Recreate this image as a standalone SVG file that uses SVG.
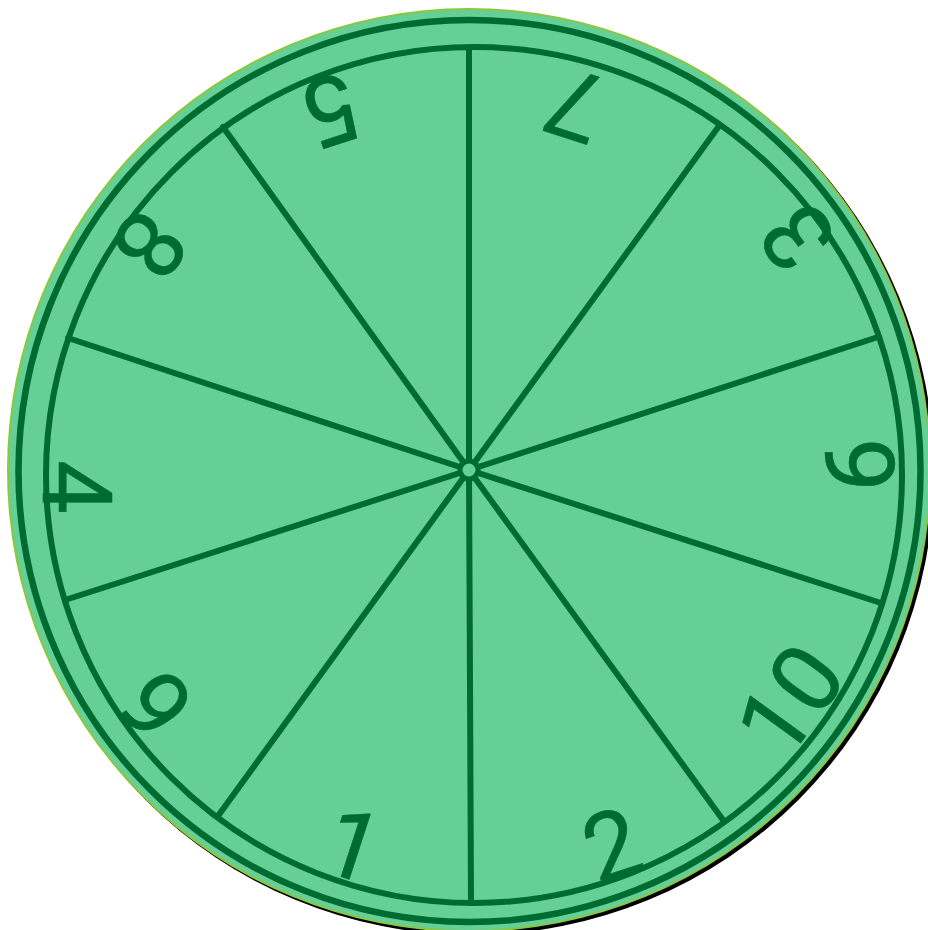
<svg xmlns="http://www.w3.org/2000/svg" width="928" height="930" viewBox="0 0 928 930">
  <style>
    .ln { stroke: #006B30; fill: none; }
    .spoke { stroke: #006B30; stroke-width: 6; stroke-linecap: round; }
    .num { font-family: "Roboto", "Liberation Sans", sans-serif; font-weight: 400; font-size: 96px; fill: #006B30; stroke: #006B30; stroke-width: 0.5; text-anchor: middle; }
  </style>
  <rect width="928" height="930" fill="#FFFFFF"/>
  <g id="disk">
    <circle cx="472" cy="473" r="462" fill="#000000"/>
    <circle cx="469" cy="470" r="462" fill="#8DC63F"/>
    <circle cx="469" cy="470" r="460" fill="#66CF96"/>
    <circle class="ln" cx="469.5" cy="471" r="451" stroke-width="6.5"/>
    <circle class="ln" cx="474" cy="475" r="428" stroke-width="6"/>
  </g>
  <g id="spokes">
    <line class="spoke" x1="469" y1="470" x2="469" y2="48"/>
    <line class="spoke" x1="469" y1="470" x2="719" y2="126"/>
    <line class="spoke" x1="469" y1="470" x2="878" y2="337"/>
    <line class="spoke" x1="469" y1="470" x2="881" y2="603"/>
    <line class="spoke" x1="469" y1="470" x2="723" y2="820"/>
    <line class="spoke" x1="469" y1="470" x2="471" y2="901"/>
    <line class="spoke" x1="469" y1="470" x2="218" y2="816"/>
    <line class="spoke" x1="469" y1="470" x2="65" y2="600"/>
    <line class="spoke" x1="469" y1="470" x2="68" y2="338"/>
    <line class="spoke" x1="469" y1="470" x2="223" y2="127"/>
  </g>
  <g id="hub">
    <circle cx="469" cy="470" r="9" fill="#66CF96" stroke="#006B30" stroke-width="5"/>
  </g>
  <g id="numbers">
    <text class="num" transform="translate(575,105) rotate(198)" y="34">7</text>
    <text class="num" transform="translate(797,237) rotate(234)" y="34">3</text>
    <text class="num" transform="translate(860,465) rotate(270)" y="34">6</text>
    <text class="num" transform="translate(790,700) rotate(306)" y="34">10</text>
    <text class="num" transform="translate(612,845) rotate(342)" y="34">2</text>
    <text class="num" transform="translate(353,845) rotate(18)" y="34">1</text>
    <text class="num" transform="translate(155,705) rotate(54)" y="34">9</text>
    <text class="num" transform="translate(77,487) rotate(90)" y="34">4</text>
    <text class="num" transform="translate(150,245) rotate(126)" y="34">8</text>
    <text class="num" transform="translate(333,110) rotate(162)" y="34">5</text>
  </g>
</svg>
